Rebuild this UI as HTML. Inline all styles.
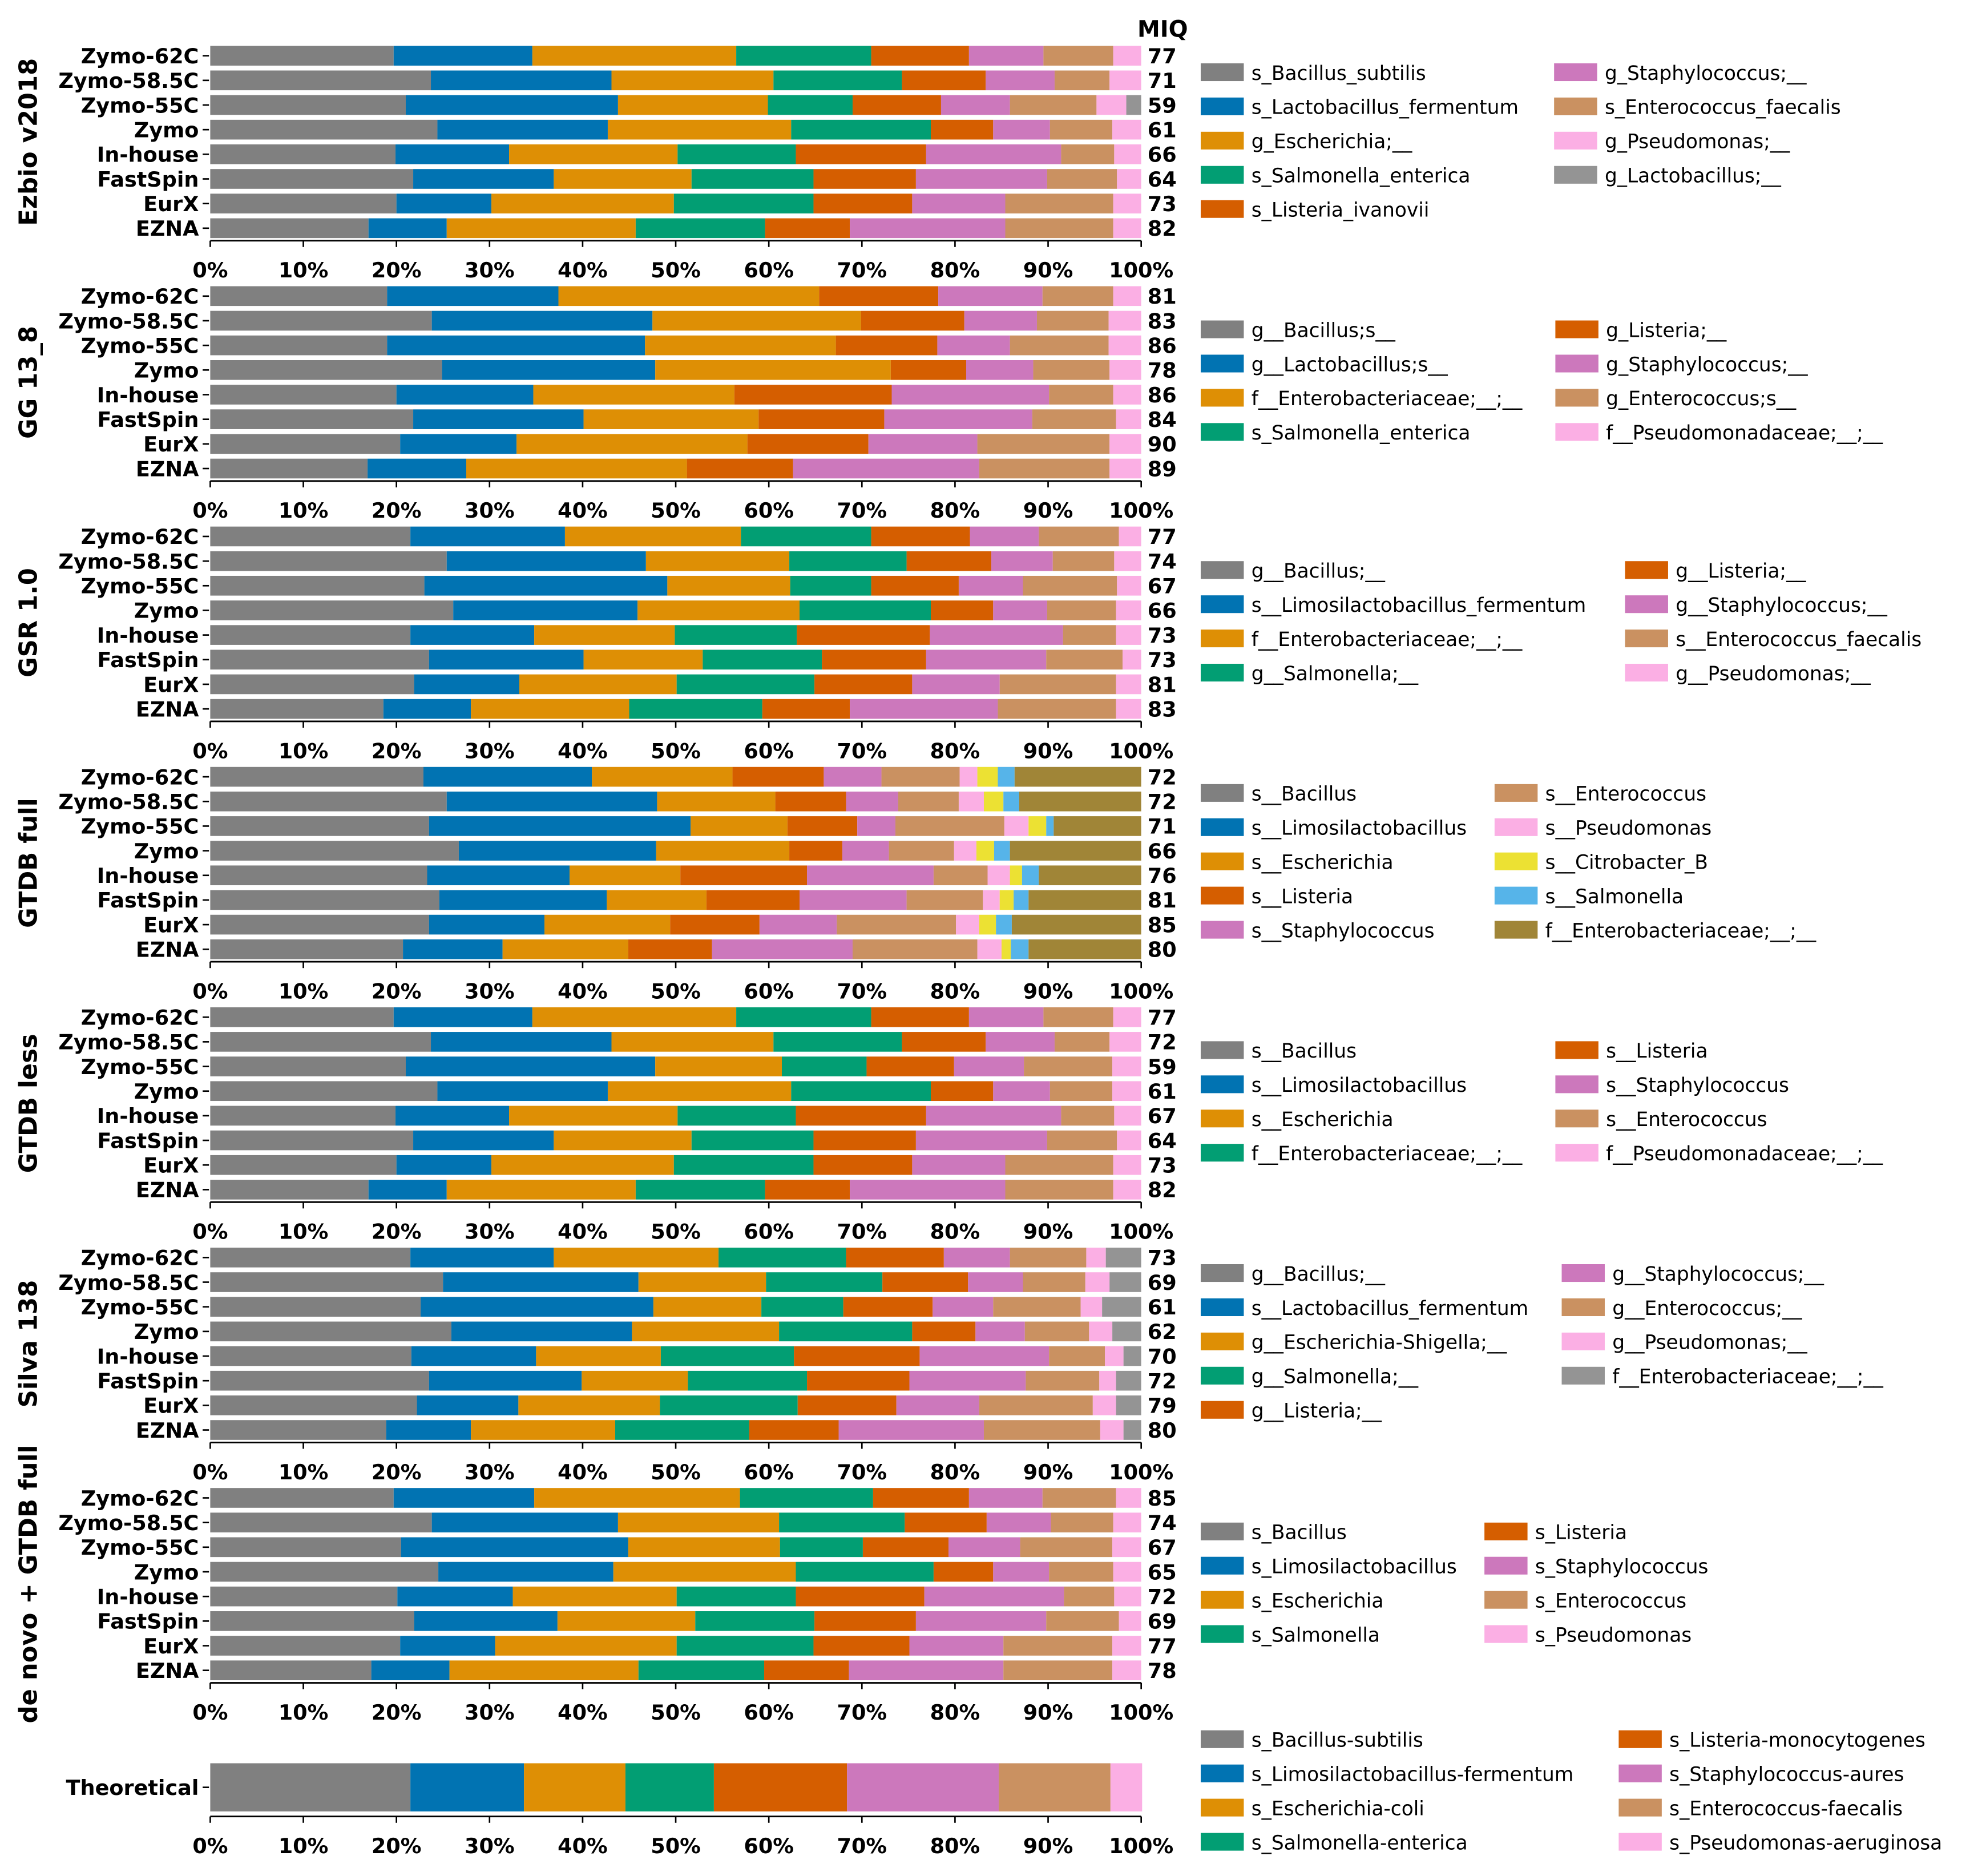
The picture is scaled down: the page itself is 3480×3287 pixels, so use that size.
<!DOCTYPE html>
<html><head><meta charset="utf-8"><style>
html,body{margin:0;padding:0;background:#fff;}
svg{display:block;}
text{font-family:"DejaVu Sans","Liberation Sans",sans-serif;}
</style></head><body>
<svg id="chart" xmlns="http://www.w3.org/2000/svg" width="3480" height="3287" viewBox="0 0 1568 1481" preserveAspectRatio="none"></svg>
<script>
const categories = ["Zymo-62C","Zymo-58.5C","Zymo-55C","Zymo","In-house","FastSpin","EurX","EZNA"];
const panelNames = ["Ezbio v2018","GG 13_8","GSR 1.0","GTDB full","GTDB less","Silva 138","de novo + GTDB full"];
const tickLabels = ["0%","10%","20%","30%","40%","50%","60%","70%","80%","90%","100%"];
const tickValues = [0,10,20,30,40,50,60,70,80,90,100];

const ezbio = [
 [19.7,14.9,21.9,14.5,10.5,8.0,7.5,3.0,0],
 [23.7,19.4,17.4,13.8,9.0,7.4,5.9,3.4,0],
 [21.0,22.8,16.1,9.1,9.5,7.4,9.3,3.2,1.6],
 [24.4,18.3,19.7,15.0,6.7,6.1,6.7,3.1,0],
 [19.9,12.2,18.1,12.7,14.0,14.5,5.7,2.9,0],
 [21.8,15.1,14.8,13.1,11.0,14.1,7.5,2.6,0],
 [20.0,10.2,19.6,15.0,10.6,10.0,11.6,3.0,0],
 [17.0,8.4,20.3,13.9,9.1,16.7,11.6,3.0,0]];
const gg = [
 [19.0,18.4,28.0,0,12.8,11.2,7.6,3.0],
 [23.8,23.7,22.4,0,11.1,7.8,7.7,3.5],
 [19.0,27.7,20.5,0,10.9,7.8,10.6,3.5],
 [24.9,22.9,25.3,0,8.1,7.2,8.2,3.4],
 [20.0,14.7,21.6,0,16.9,16.9,6.9,3.0],
 [21.8,18.3,18.8,0,13.5,15.9,9.0,2.7],
 [20.4,12.5,24.8,0,13.0,11.7,14.2,3.4],
 [16.9,10.6,23.7,0,11.4,20.0,14.0,3.4]];
const gsr = [
 [21.5,16.6,18.9,14.0,10.6,7.4,8.6,2.4],
 [25.4,21.4,15.4,12.6,9.1,6.6,6.6,2.9],
 [23.0,26.1,13.2,8.7,9.4,6.9,10.1,2.6],
 [26.1,19.8,17.4,14.1,6.7,5.8,7.4,2.7],
 [21.5,13.3,15.1,13.1,14.3,14.3,5.7,2.7],
 [23.5,16.6,12.8,12.8,11.2,12.9,8.2,2.0],
 [21.9,11.3,16.9,14.8,10.5,9.4,12.5,2.7],
 [18.6,9.4,17.0,14.3,9.4,15.9,12.7,2.7]];
const gtdbFull = [
 [22.9,18.1,15.1,9.8,6.2,8.4,1.9,2.2,1.8,13.6],
 [25.4,22.6,12.7,7.6,5.6,6.5,2.7,2.1,1.7,13.1],
 [23.5,28.1,10.4,7.5,4.1,11.7,2.6,1.9,0.8,9.4],
 [26.7,21.2,14.3,5.7,5.0,7.0,2.4,1.9,1.7,14.1],
 [23.3,15.3,11.9,13.6,13.6,5.8,2.4,1.3,1.8,11.0],
 [24.6,18.0,10.7,10.0,11.5,8.2,1.8,1.5,1.6,12.1],
 [23.5,12.4,13.5,9.6,8.3,12.8,2.5,1.8,1.7,13.9],
 [20.7,10.7,13.5,9.0,15.1,13.4,2.6,1.0,1.9,12.1]];
const gtdbLess = [
 [19.7,14.9,21.9,14.5,10.5,8.0,7.5,3.0],
 [23.7,19.4,17.4,13.8,9.0,7.4,5.9,3.4],
 [21.0,26.8,13.6,9.1,9.4,7.5,9.5,3.1],
 [24.4,18.3,19.7,15.0,6.7,6.1,6.7,3.1],
 [19.9,12.2,18.1,12.7,14.0,14.5,5.7,2.9],
 [21.8,15.1,14.8,13.1,11.0,14.1,7.5,2.6],
 [20.0,10.2,19.6,15.0,10.6,10.0,11.6,3.0],
 [17.0,8.4,20.3,13.9,9.1,16.7,11.6,3.0]];
const silva = [
 [21.5,15.4,17.7,13.7,10.5,7.1,8.2,2.1,3.8],
 [25.0,21.0,13.7,12.5,9.2,5.9,6.7,2.6,3.4],
 [22.6,25.0,11.6,8.8,9.6,6.5,9.4,2.3,4.2],
 [25.9,19.4,15.8,14.3,6.8,5.3,6.9,2.5,3.1],
 [21.6,13.4,13.4,14.3,13.5,13.9,6.0,2.0,1.9],
 [23.5,16.4,11.4,12.8,11.0,12.5,7.9,1.8,2.7],
 [22.2,10.9,15.2,14.8,10.6,8.9,12.2,2.5,2.7],
 [18.9,9.1,15.5,14.4,9.6,15.6,12.5,2.5,1.9]];
const denovo = [
 [19.7,15.1,22.1,14.3,10.3,7.9,7.9,2.7],
 [23.8,20.0,17.3,13.5,8.8,6.9,6.7,3.0],
 [20.5,24.4,16.3,8.9,9.2,7.7,9.9,3.1],
 [24.5,18.8,19.6,14.8,6.4,6.0,6.9,3.0],
 [20.1,12.4,17.6,12.8,13.8,15.0,5.4,2.9],
 [21.9,15.4,14.8,12.8,10.9,14.0,7.8,2.4],
 [20.4,10.2,19.5,14.7,10.3,10.1,11.7,3.1],
 [17.3,8.4,20.3,13.5,9.1,16.6,11.7,3.1]];
const theoretical = [21.5,12.2,10.9,9.5,14.3,16.3,12.0,3.4];

const miqEzbio = [77,71,59,61,66,64,73,82];
const miqGg = [81,83,86,78,86,84,90,89];
const miqGsr = [77,74,67,66,73,73,81,83];
const miqGtdbFull = [72,72,71,66,76,81,85,80];
const miqGtdbLess = [77,72,59,61,67,64,73,82];
const miqSilva = [73,69,61,62,70,72,79,80];
const miqDenovo = [85,74,67,65,72,69,77,78];

const legEzbio = ["s_Bacillus_subtilis","s_Lactobacillus_fermentum","g_Escherichia;__","s_Salmonella_enterica","s_Listeria_ivanovii","g_Staphylococcus;__","s_Enterococcus_faecalis","g_Pseudomonas;__","g_Lactobacillus;__"];
const legGg = ["g__Bacillus;s__","g__Lactobacillus;s__","f__Enterobacteriaceae;__;__","s_Salmonella_enterica","g_Listeria;__","g_Staphylococcus;__","g_Enterococcus;s__","f__Pseudomonadaceae;__;__"];
const legGsr = ["g__Bacillus;__","s__Limosilactobacillus_fermentum","f__Enterobacteriaceae;__;__","g__Salmonella;__","g__Listeria;__","g__Staphylococcus;__","s__Enterococcus_faecalis","g__Pseudomonas;__"];
const legGtdbFull = ["s__Bacillus","s__Limosilactobacillus","s__Escherichia","s__Listeria","s__Staphylococcus","s__Enterococcus","s__Pseudomonas","s__Citrobacter_B","s__Salmonella","f__Enterobacteriaceae;__;__"];
const legGtdbLess = ["s__Bacillus","s__Limosilactobacillus","s__Escherichia","f__Enterobacteriaceae;__;__","s__Listeria","s__Staphylococcus","s__Enterococcus","f__Pseudomonadaceae;__;__"];
const legSilva = ["g__Bacillus;__","s__Lactobacillus_fermentum","g__Escherichia-Shigella;__","g__Salmonella;__","g__Listeria;__","g__Staphylococcus;__","g__Enterococcus;__","g__Pseudomonas;__","f__Enterobacteriaceae;__;__"];
const legDenovo = ["s_Bacillus","s_Limosilactobacillus","s_Escherichia","s_Salmonella","s_Listeria","s_Staphylococcus","s_Enterococcus","s_Pseudomonas"];
const legTheo = ["s_Bacillus-subtilis","s_Limosilactobacillus-fermentum","s_Escherichia-coli","s_Salmonella-enterica","s_Listeria-monocytogenes","s_Staphylococcus-aures","s_Enterococcus-faecalis","s_Pseudomonas-aeruginosa"];

const C = {grey:"#808080",blue:"#0173b2",orange:"#de8f05",green:"#029e73",red:"#d55e00",pink:"#cc78bc",tan:"#ca9161",lpink:"#fbafe4",grey2:"#949494",yellow:"#ece133",sky:"#56b4e9",olive:"#a08537"};
const std8 = [C.grey,C.blue,C.orange,C.green,C.red,C.pink,C.tan,C.lpink];
const panels = [
 {data:ezbio, miq:miqEzbio, leg:legEzbio, colors:[...std8,C.grey2], col1:5, x2:1227},
 {data:gg, miq:miqGg, leg:legGg, colors:std8, col1:4, x2:1228},
 {data:gsr, miq:miqGsr, leg:legGsr, colors:std8, col1:4, x2:1283},
 {data:gtdbFull, miq:miqGtdbFull, leg:legGtdbFull, colors:[C.grey,C.blue,C.orange,C.red,C.pink,C.tan,C.lpink,C.yellow,C.sky,C.olive], col1:5, x2:1180},
 {data:gtdbLess, miq:miqGtdbLess, leg:legGtdbLess, colors:std8, col1:4, x2:1228},
 {data:silva, miq:miqSilva, leg:legSilva, colors:[...std8,C.grey2], col1:5, x2:1233},
 {data:denovo, miq:miqDenovo, leg:legDenovo, colors:std8, col1:4, x2:1172}
];
const legTop = [57,260,450,626,829,1005,1209];

const svg = document.getElementById("chart");
const NS = "http://www.w3.org/2000/svg";
const X0 = 166, X1 = 901;
function xs(v){ return X0 + (X1 - X0) * v / 100; }
function mk(tag, attrs, parent){ const e = document.createElementNS(NS, tag); for (const k in attrs) e.setAttribute(k, attrs[k]); (parent||svg).appendChild(e); return e; }
function txt(s, attrs, parent){ const e = mk("text", attrs, parent); e.textContent = s; return e; }

function drawAxis(g, spineY){
  const sp = mk("line",{x1:X0,x2:X1,y1:spineY,y2:spineY,stroke:"#000","stroke-width":1.3},g);
  
  
  tickValues.forEach((v,i)=>{
    mk("line",{x1:xs(v),x2:xs(v),y1:spineY,y2:spineY+5,stroke:"#000","stroke-width":1.2},g);
    const t = txt(tickLabels[i],{x:xs(v),y:spineY+29,"text-anchor":"middle","font-size":16.5,"font-weight":"bold"},g);
    
    
  });
}
function drawLegend(g, labels, colors, col1, x2, top){
  labels.forEach((lab,i)=>{
    const c = i < col1 ? 0 : 1, r = i < col1 ? i : i - col1;
    const sx = c===0 ? 948 : x2, y = top + r*27;
    const e = mk("g",{},g);
    
    
    mk("rect",{x:sx,y:y-7,width:34,height:14,fill:colors[i]},e);
    txt(lab,{x:sx+40,y:y+6,"font-size":15.5},e);
  });
}

panels.forEach((p,pi)=>{
  const g = mk("g",{});
  
  
  const base = 44 + pi*189.75;
  p.data.forEach((row,ri)=>{
    const cy = base + ri*19.45;
    let acc = 0;
    row.forEach((v,si)=>{
      if (v <= 0) { return; }
      const r = mk("rect",{x:xs(acc),y:cy-7.8,width:xs(acc+v)-xs(acc),height:15.6,fill:p.colors[si]},g);
      
      
      acc += v;
    });
    mk("line",{x1:X0-6,x2:X0-1,y1:cy,y2:cy,stroke:"#000","stroke-width":1.2},g);
    const cl = txt(categories[ri],{x:X0-9,y:cy+6,"text-anchor":"end","font-size":16.5,"font-weight":"bold"},g);
    
    
    const ml = txt(String(p.miq[ri]),{x:906,y:cy+6,"font-size":16.5,"font-weight":"bold"},g);
    
    
  });
  drawAxis(g, base + 146);
  const mid = base + 3.5*19.45;
  const pl = txt(panelNames[pi],{x:0,y:0,"text-anchor":"middle","font-size":19.5,"font-weight":"bold",transform:"translate(29,"+mid+") rotate(-90)"},g);
  
  
  drawLegend(g, p.leg, p.colors, p.col1, p.x2, legTop[pi]);
});

const mh = txt("MIQ",{x:898,y:29,"font-size":18,"font-weight":"bold"});



const tg = mk("g",{});


let tacc = 0;
theoretical.forEach((v,si)=>{
  const r = mk("rect",{x:xs(tacc),y:1392,width:xs(tacc+v)-xs(tacc),height:38,fill:std8[si]},tg);
  
  
  tacc += v;
});
mk("line",{x1:X0-6,x2:X0-1,y1:1411,y2:1411,stroke:"#000","stroke-width":1.2},tg);
const tl = txt("Theoretical",{x:X0-9,y:1417,"text-anchor":"end","font-size":16.5,"font-weight":"bold"},tg);


drawAxis(tg, 1434);
drawLegend(tg, legTheo, std8, 4, 1278, 1373);
</script>
</body></html>
